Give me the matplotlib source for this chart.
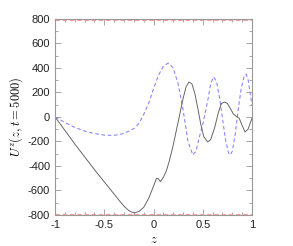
import matplotlib
matplotlib.use("Agg")
import matplotlib.pyplot as plt
from matplotlib.ticker import MultipleLocator

# data
z_black = [-1.0, -0.9, -0.8, -0.7, -0.6, -0.5, -0.4, -0.35, -0.3, -0.25, -0.2, -0.15,
           -0.1, -0.05, 0.0, 0.03, 0.05, 0.07, 0.1, 0.13, 0.16, 0.2, 0.25, 0.3, 0.33,
           0.36, 0.39, 0.42, 0.45, 0.48, 0.51, 0.55, 0.58, 0.62, 0.66, 0.69, 0.72,
           0.75, 0.78, 0.81, 0.84, 0.87, 0.9, 0.93, 0.96, 1.0]
u_black = [0, -110, -220, -325, -430, -530, -630, -680, -728, -765, -783, -772,
           -738, -665, -565, -500, -505, -528, -492, -440, -360, -230, -40, 150, 245,
           286, 270, 190, 70, -60, -160, -204, -185, -90, 40, 110, 122,
           110, 70, 25, 5, -10, -70, -122, -100, -10]

z_blue = [-1.0, -0.9, -0.8, -0.7, -0.6, -0.5, -0.4, -0.3, -0.2, -0.15, -0.1, -0.05,
          0.0, 0.05, 0.1, 0.15, 0.2, 0.25, 0.3, 0.35, 0.4, 0.43, 0.47, 0.5, 0.55,
          0.58, 0.61, 0.64, 0.67, 0.7, 0.73, 0.76, 0.78, 0.8, 0.83, 0.86, 0.89,
          0.92, 0.94, 0.96, 0.98, 1.0]
u_blue = [0, -45, -85, -115, -135, -148, -150, -135, -95, -55, 20, 110,
          230, 340, 415, 440, 400, 270, 60, -200, -310, -280, -150, -60, 130,
          270, 327, 290, 160, -10, -180, -290, -310, -280, -140, 60, 230,
          330, 350, 310, 200, 100]

bound = 790
x_ticks = [-1, -0.5, 0, 0.5, 1]
y_ticks = [-800, -600, -400, -200, 0, 200, 400, 600, 800]

plt.rcParams['font.family'] = ['Liberation Sans', 'DejaVu Sans']
plt.rcParams['mathtext.fontset'] = 'cm'

fig = plt.figure(figsize=(2.93, 2.46), dpi=100)
ax = fig.add_axes([0.188, 0.126, 0.672, 0.797])

ax.axhline(bound, color='#ff9999', lw=0.8, ls=(0, (4, 2.5)))
ax.axhline(-bound, color='#ff9999', lw=0.8, ls=(0, (4, 2.5)))
ax.plot(z_blue, u_blue, color='#8080ff', lw=0.75, ls=(0, (3.5, 2.5)))
ax.plot(z_black, u_black, color='#666666', lw=0.7)

ax.set_xlim(-1, 1)
ax.set_ylim(-800, 800)
ax.set_xticks(x_ticks)
ax.set_xticklabels(['-1', '-0.5', '0', '0.5', '1'])
ax.set_yticks(y_ticks)
ax.set_yticklabels([str(v) for v in y_ticks])
ax.xaxis.set_minor_locator(MultipleLocator(0.1))
ax.yaxis.set_minor_locator(MultipleLocator(100))
ax.tick_params(which='both', direction='in', top=True, right=True,
               colors='#999999', labelcolor='#222222', labelsize=8, width=0.6)
ax.tick_params(which='major', length=4)
ax.tick_params(which='minor', length=2)
for s in ax.spines.values():
    s.set_color('#999999')
    s.set_linewidth(0.8)

ax.set_xlabel(r'$z$', fontsize=9, labelpad=3)
ax.set_ylabel(r'$U^z(z, t=5000)$', fontsize=9, labelpad=2)

fig.savefig('out.png', dpi=100)
